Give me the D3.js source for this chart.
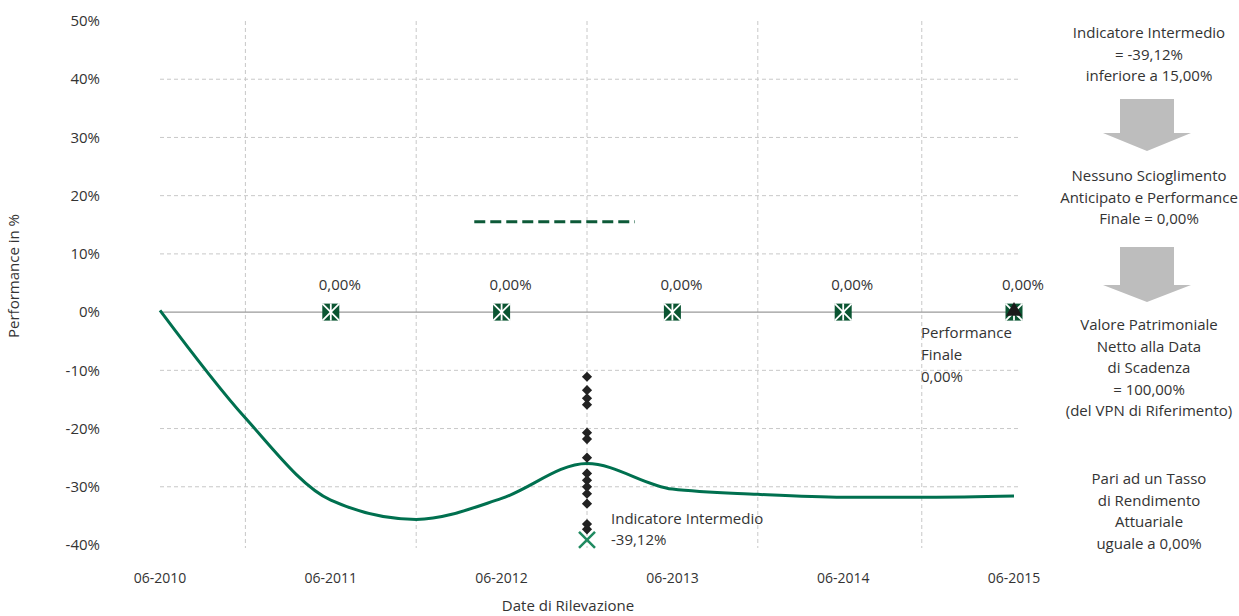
<!DOCTYPE html>
<html><head><meta charset="utf-8">
<script src="https://cdn.jsdelivr.net/npm/d3@7"></script>
<style>body{margin:0;background:#fff}svg{display:block;font-family:"Open Sans",sans-serif}</style>
</head><body>
<svg id="c" width="1239" height="616"></svg>
<script>
// ---- data ----
const xTickLabels = ["06-2010","06-2011","06-2012","06-2013","06-2014","06-2015"];
const yTicks = [50,40,30,20,10,0,-10,-20,-30,-40];
const vGridT = [0.5,1.5,2.5,3.5,4.46];
// performance curve (years since 06-2010, %)
const curveT = [0,0.5,1,1.5,2,2.5,3,3.5,4,4.5,5];
const curveV = [0.3,-18.2,-32.3,-35.6,-32.0,-26.0,-30.4,-31.3,-31.8,-31.8,-31.6];
// observation markers at 0%
const obsT = [1,2,3,4,5];
const obsV = [0,0,0,0,0];
const obsLabels = ["0,00%","0,00%","0,00%","0,00%","0,00%"];
// intermediate indicator scatter (at 2.5 years)
const diamondT = 2.5;
const diamondV = [-11.1,-13.4,-14.8,-15.9,-20.7,-21.8,-25.0,-27.7,-28.9,-30.0,-31.2,-32.9,-36.4,-37.3];
const indicatorV = -39.12;
// barrier line
const barrierV = 15.5;
const barrierT = [1.84,2.78];
const rightTexts = [
  ["Indicatore Intermedio","= -39,12%","inferiore a 15,00%"],
  ["Nessuno Scioglimento","Anticipato e Performance","Finale = 0,00%"],
  ["Valore Patrimoniale","Netto alla Data","di Scadenza","= 100,00%","(del VPN di Riferimento)"],
  ["Pari ad un Tasso","di Rendimento","Attuariale","uguale a 0,00%"]
];

const svg = d3.select("#c");
const x = d3.scaleLinear().domain([0,5]).range([160,1014]);
const y = d3.scaleLinear().domain([-40,50]).range([545,21]);
const txt = "#333";
const fs = 15;

// grid
const grid = svg.append("g").attr("stroke","#c8c8c8").attr("stroke-dasharray","4,3").attr("stroke-width",1);
yTicks.filter(v=>v!==0 && v!==50 && v!==-40).forEach(v=>{
  grid.append("line").attr("x1",x(0)).attr("x2",x(5)+4).attr("y1",y(v)).attr("y2",y(v));
});
vGridT.forEach(t=>{
  grid.append("line").attr("x1",x(t)).attr("x2",x(t)).attr("y1",y(50)).attr("y2",y(-40)+3);
});
// zero line
svg.append("line").attr("x1",x(0)).attr("x2",x(5)).attr("y1",y(0)).attr("y2",y(0)).attr("stroke","#9a9a9a").attr("stroke-width",1.3);

// y axis labels
svg.append("g").selectAll("text").data(yTicks).join("text")
  .attr("x",100).attr("y",d=>y(d)).attr("dy","0.35em").attr("text-anchor","end")
  .attr("font-size",fs).attr("fill",txt).text(d=>d+"%");
// x axis labels
svg.append("g").selectAll("text").data(xTickLabels).join("text")
  .attr("x",(d,i)=>x(i)).attr("y",583).attr("text-anchor","middle")
  .attr("font-size",14).attr("fill",txt).text(d=>d);
svg.append("text").attr("x",568).attr("y",611).attr("text-anchor","middle").attr("font-size",fs).attr("fill",txt).text("Date di Rilevazione");
svg.append("text").attr("transform","translate(19,276) rotate(-90)").attr("text-anchor","middle").attr("font-size",fs).attr("fill",txt).text("Performance in %");

// barrier
svg.append("line").attr("x1",x(barrierT[0])).attr("x2",x(barrierT[1])).attr("y1",y(barrierV)).attr("y2",y(barrierV))
  .attr("stroke","#0d5a38").attr("stroke-width",3).attr("stroke-dasharray","11,5").attr("stroke-linecap","butt");

// curve
const line = d3.line().x(d=>x(d[0])).y(d=>y(d[1])).curve(d3.curveMonotoneX);
svg.append("path").datum(curveT.map((t,i)=>[t,curveV[i]])).attr("d",line)
  .attr("fill","none").attr("stroke","#00704f").attr("stroke-width",3);

// diamonds
svg.append("g").selectAll("path").data(diamondV).join("path")
  .attr("d",d3.symbol(d3.symbolSquare,52))
  .attr("transform",d=>`translate(${x(diamondT)},${y(d)}) rotate(45)`).attr("fill","#222");
// indicator X
const ix = x(diamondT), iy = y(indicatorV);
svg.append("path").attr("d",`M${ix-8},${iy-8}L${ix+8},${iy+8}M${ix-8},${iy+8}L${ix+8},${iy-8}`)
  .attr("stroke","#1f8a60").attr("stroke-width",2.5);
svg.append("text").attr("x",611).attr("y",524).attr("font-size",fs).attr("fill",txt).text("Indicatore Intermedio");
svg.append("text").attr("x",611).attr("y",545).attr("font-size",fs).attr("fill",txt).text("-39,12%");

// observation markers
const mg = svg.append("g");
obsT.forEach((t,i)=>{
  const cx=x(t), cy=y(obsV[i]);
  mg.append("rect").attr("x",cx-8.5).attr("y",cy-8.5).attr("width",17).attr("height",17).attr("fill","#0b5532");
  mg.append("path").attr("d",`M${cx-8.5},${cy-8.5}L${cx+8.5},${cy+8.5}M${cx-8.5},${cy+8.5}L${cx+8.5},${cy-8.5}M${cx},${cy-8.5}V${cy+8.5}`)
    .attr("stroke","#fff").attr("stroke-width",1.8);
  mg.append("text").attr("x",cx+9).attr("y",cy-22).attr("text-anchor","middle").attr("font-size",fs).attr("fill",txt).text(obsLabels[i]);
});
// final black triangle
svg.append("path").attr("d",d3.symbol(d3.symbolTriangle,110)).attr("transform",`translate(${x(5)},${y(0)-1})`).attr("fill","#1a1a1a");
["Performance","Finale","0,00%"].forEach((s,i)=>{
  svg.append("text").attr("x",921).attr("y",338+i*22).attr("font-size",fs).attr("fill",txt).text(s);
});

// right panel
const rx = 1149;
const starts = [38,181,330,484];
rightTexts.forEach((lines,k)=>{
  lines.forEach((s,i)=>{
    svg.append("text").attr("x",rx).attr("y",starts[k]+i*21.5).attr("text-anchor","middle").attr("font-size",fs).attr("fill",txt).text(s);
  });
});
function arrow(top,mid,bot){
  const c=1147;
  svg.append("path").attr("d",`M${c-27},${top}H${c+27}V${mid}H${c+44}L${c},${bot}L${c-44},${mid}H${c-27}Z`).attr("fill","#bdbdbd");
}
arrow(99,133,151);
arrow(247,285,302);
</script>
</body></html>
